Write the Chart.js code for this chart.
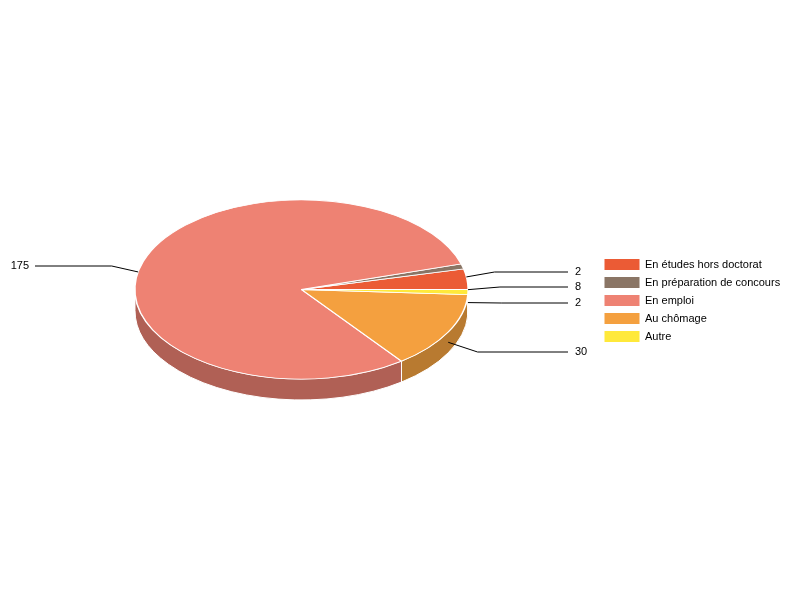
<!DOCTYPE html>
<html>
<head>
<meta charset="utf-8">
<title>Situation</title>
<script src="https://cdn.jsdelivr.net/npm/chart.js@4"></script>
<style>
body { margin: 0; background: #fff; }
canvas { display: block; }
</style>
</head>
<body>
<canvas id="pie" width="800" height="600"></canvas>
<script>
const categories = ["En études hors doctorat", "En préparation de concours", "En emploi", "Au chômage", "Autre"];
const values = [8, 2, 175, 30, 2];
const colors = ["#EB5B35", "#8A7565", "#EE8273", "#F4A03F", "#FFE93B"];
const sideColors = ["#B04428", "#67584C", "#B06055", "#B87A30", "#BFAF2C"];

// the pie is squashed into an ellipse and given a side wall
const squash = 0.5375;
const depth = 21;
const radius = 166.5;
const font = "11px 'Liberation Sans', Arial, sans-serif";

const placeBoxes = {
    id: "placeBoxes",
    afterLayout(chart) {
        chart.chartArea = { left: 134, right: 469, top: 122, bottom: 457, width: 335, height: 335 };
        const legend = chart.legend;
        const h = legend.bottom - legend.top;
        const w = legend.right - legend.left;
        legend.left = 597.5;
        legend.right = 597.5 + w;
        legend.top = 300.5 - h / 2;
        legend.bottom = 300.5 + h / 2;
    }
};

const pie3d = {
    id: "pie3d",
    beforeDatasetDraw(chart) {
        const ctx = chart.ctx;
        const arcs = chart.getDatasetMeta(0).data;
        const cx = arcs[0].x, cy = arcs[0].y;
        const ry = radius * squash;

        // side wall: only the part of each slice facing the viewer
        arcs.forEach((arc, i) => {
            const a = Math.max(arc.startAngle, Math.PI);
            const b = Math.min(arc.endAngle, Math.PI * 2);
            if (b <= a) return;
            ctx.beginPath();
            ctx.ellipse(cx, cy, radius, ry, 0, -a, -b, true);
            ctx.ellipse(cx, cy + depth, radius, ry, 0, -b, -a, false);
            ctx.closePath();
            ctx.fillStyle = sideColors[i];
            ctx.strokeStyle = "#fff";
            ctx.lineWidth = 1;
            ctx.fill();
            ctx.stroke();
        });

        ctx.save();
        ctx.translate(cx, cy);
        ctx.scale(1, -squash);
        ctx.translate(-cx, -cy);
    },
    afterDatasetDraw(chart) {
        chart.ctx.restore();
    },
    afterDraw(chart) {
        const ctx = chart.ctx;
        const arcs = chart.getDatasetMeta(0).data;
        const ry = radius * squash;
        ctx.save();
        ctx.font = font;
        ctx.fillStyle = "#000";
        ctx.textBaseline = "middle";
        arcs.forEach((arc, i) => {
            const mid = (arc.startAngle + arc.endAngle) / 2;
            const dx = Math.cos(mid) * radius;
            const dy = -Math.sin(mid) * ry;
            const baseY = arc.y + depth / 2;
            const right = dx > 0;
            const elbowY = Math.round(baseY + dy * 1.22);

            // on the upper half the line stops at the rim of the top face
            let startX = arc.x + dx;
            const startY = baseY + dy;
            if (dy < 0) {
                const t = (startY - arc.y) / ry;
                startX = arc.x + (right ? 1 : -1) * radius * Math.sqrt(1 - t * t);
            }

            ctx.beginPath();
            ctx.moveTo(startX, startY);
            ctx.lineTo(arc.x + dx * 1.2, elbowY);
            ctx.lineTo(right ? 568 : 35, elbowY);
            ctx.strokeStyle = "#000";
            ctx.lineWidth = 1;
            ctx.stroke();
            ctx.textAlign = right ? "left" : "right";
            ctx.fillText(String(values[i]), right ? 575 : 29, elbowY);
        });
        ctx.restore();
    }
};

new Chart(document.getElementById("pie"), {
    type: "pie",
    data: {
        labels: categories,
        datasets: [{
            data: values,
            backgroundColor: colors,
            borderColor: "#fff",
            borderWidth: 1.6,
            clip: false
        }]
    },
    options: {
        responsive: false,
        animation: false,
        rotation: 90,
        plugins: {
            tooltip: { enabled: false },
            legend: {
                position: "right",
                labels: {
                    boxWidth: 35,
                    boxHeight: 11,
                    padding: 7,
                    color: "#000",
                    font: { family: "'Liberation Sans', Arial, sans-serif", size: 11 },
                    generateLabels: () => categories.map((name, i) => ({
                        text: name,
                        fillStyle: colors[i],
                        lineWidth: 0,
                        index: i
                    }))
                }
            }
        }
    },
    plugins: [placeBoxes, pie3d]
});
</script>
</body>
</html>
